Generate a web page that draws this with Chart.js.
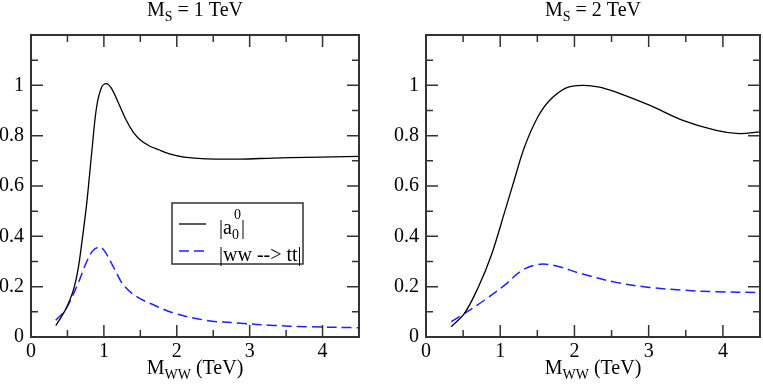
<!DOCTYPE html>
<html>
<head>
<meta charset="utf-8">
<script src="https://cdn.jsdelivr.net/npm/chart.js@4.4.0/dist/chart.umd.min.js"></script>
<style>
  body { margin: 0; background: #fff; }
  #wrap { position: relative; width: 763px; height: 385px; }
  canvas { position: absolute; top: 0; }
</style>
</head>
<body>
<div id="wrap">
  <canvas id="left" width="383" height="385" style="left:0"></canvas>
  <canvas id="right" width="380" height="385" style="left:383px"></canvas>
</div>
<script>
// --- DATA ---
const xMajor = [0, 1, 2, 3, 4];
const xMinor = [0.5, 1.5, 2.5, 3.5];
const yMajor = [0, 0.2, 0.4, 0.6, 0.8, 1, 1.2];
const yMinor = [0.1, 0.3, 0.5, 0.7, 0.9, 1.1];
const yLabels = [0, 0.2, 0.4, 0.6, 0.8, 1];

// M_S = 1 TeV
const leftA0X = [0.34, 0.47, 0.53, 0.59, 0.645, 0.695, 0.764, 0.832, 0.90, 0.97, 1.03, 1.1, 1.2, 1.3, 1.4, 1.5, 1.62, 1.75, 1.9, 2.1, 2.4, 2.87, 3.32, 3.78, 4.5];
const leftA0Y = [0.045, 0.107, 0.145, 0.195, 0.268, 0.37, 0.53, 0.73, 0.914, 0.993, 1.007, 0.99, 0.93, 0.865, 0.815, 0.783, 0.76, 0.744, 0.728, 0.715, 0.708, 0.707, 0.711, 0.714, 0.718];
const leftTtX = [0.34, 0.47, 0.627, 0.764, 0.855, 0.95, 1.015, 1.13, 1.27, 1.45, 1.632, 1.95, 2.41, 2.87, 3.32, 3.78, 4.5];
const leftTtY = [0.067, 0.107, 0.2, 0.299, 0.345, 0.357, 0.339, 0.279, 0.206, 0.16, 0.134, 0.096, 0.066, 0.055, 0.046, 0.041, 0.037];

// M_S = 2 TeV
const rightA0X = [0.34, 0.52, 0.70, 0.88, 1.058, 1.19, 1.327, 1.506, 1.664, 1.89, 2.11, 2.336, 2.56, 3.01, 3.46, 3.91, 4.22, 4.5];
const rightA0Y = [0.041, 0.095, 0.195, 0.325, 0.495, 0.625, 0.755, 0.874, 0.94, 0.99, 1.0, 0.993, 0.973, 0.921, 0.861, 0.821, 0.808, 0.815];
const rightTtX = [0.34, 0.52, 0.79, 1.06, 1.28, 1.506, 1.73, 2.11, 2.56, 3.01, 3.46, 3.91, 4.5];
const rightTtY = [0.061, 0.094, 0.147, 0.206, 0.262, 0.288, 0.284, 0.25, 0.217, 0.197, 0.186, 0.18, 0.177];

const FONT = '"Liberation Serif", "Times New Roman", serif';
const BIG = 20;
const SMALL = 14;

function pts(xs, ys) {
    return xs.map((x, i) => ({ x: x, y: ys[i] }));
}

// draws a run of text pieces (some sub/superscript) centred on cx
function drawRich(ctx, parts, cx, baseline) {
    let total = 0;
    parts.forEach(p => {
        ctx.font = p.size + 'px ' + FONT;
        p.w = ctx.measureText(p.t).width;
        total += p.w;
    });
    let x = cx - total / 2;
    parts.forEach(p => {
        ctx.font = p.size + 'px ' + FONT;
        ctx.fillText(p.t, x, baseline + (p.dy || 0));
        x += p.w;
    });
}

// frame, inward ticks on all four sides, titles
const framePlugin = {
    id: 'framePlugin',
    afterDatasetsDraw(chart, args, opts) {
        const { ctx, chartArea: a, scales: { x, y } } = chart;
        ctx.save();
        ctx.strokeStyle = '#333';
        ctx.lineWidth = 1.5;
        ctx.beginPath();
        const tx = (v, len) => {
            const p = x.getPixelForValue(v);
            ctx.moveTo(p, a.bottom); ctx.lineTo(p, a.bottom - len);
            ctx.moveTo(p, a.top); ctx.lineTo(p, a.top + len);
        };
        const ty = (v, len) => {
            const p = y.getPixelForValue(v);
            ctx.moveTo(a.left, p); ctx.lineTo(a.left + len, p);
            ctx.moveTo(a.right, p); ctx.lineTo(a.right - len, p);
        };
        xMajor.forEach(v => tx(v, 12));
        xMinor.forEach(v => tx(v, 7));
        yMajor.forEach(v => ty(v, 12));
        yMinor.forEach(v => ty(v, 7));
        ctx.stroke();
        ctx.lineWidth = 2;
        ctx.strokeRect(a.left, a.top, a.right - a.left, a.bottom - a.top);

        ctx.fillStyle = '#000';
        ctx.textBaseline = 'alphabetic';
        ctx.textAlign = 'left';
        const cx = (a.left + a.right) / 2;
        drawRich(ctx, [
            { t: 'M', size: BIG },
            { t: 'S', size: SMALL, dy: 5 },
            { t: ' = ' + opts.ms + ' TeV', size: BIG }
        ], cx, 16);
        drawRich(ctx, [
            { t: 'M', size: BIG },
            { t: 'WW', size: SMALL, dy: 5 },
            { t: ' (TeV)', size: BIG }
        ], cx, 374);

        if (opts.legend) {
            ctx.lineWidth = 1.5;
            ctx.strokeStyle = '#333';
            ctx.strokeRect(172, 203, 131, 61);
            ctx.lineWidth = 1.3;
            ctx.strokeStyle = '#000';
            ctx.beginPath();
            ctx.moveTo(179, 224); ctx.lineTo(206, 224);
            ctx.stroke();
            ctx.strokeStyle = '#2020ff';
            ctx.lineWidth = 1.5;
            ctx.setLineDash([10, 5]);
            ctx.beginPath();
            ctx.moveTo(179, 251); ctx.lineTo(206, 251);
            ctx.stroke();
            ctx.setLineDash([]);

            ctx.font = BIG + 'px ' + FONT;
            let px = 219;
            ctx.fillText('|a', px, 234);
            px += ctx.measureText('|a').width;
            ctx.font = SMALL + 'px ' + FONT;
            ctx.fillText('0', px, 239);
            ctx.fillText('0', px + 2, 219);
            px += ctx.measureText('0').width + 2;
            ctx.font = BIG + 'px ' + FONT;
            ctx.fillText('|', px, 234);
            ctx.fillText('|ww --> tt|', 219, 261);
        }
        ctx.restore();
    }
};

function makeChart(id, ms, a0, tt, axisW, padRight, legend) {
    return new Chart(document.getElementById(id), {
        type: 'line',
        data: {
            datasets: [{
                data: a0,
                borderColor: '#000',
                borderWidth: 1.3,
                pointRadius: 0,
                tension: 0.35,
                fill: false
            }, {
                data: tt,
                borderColor: '#2020ff',
                borderWidth: 1.5,
                borderDash: [10, 5],
                pointRadius: 0,
                tension: 0.35,
                fill: false
            }]
        },
        options: {
            responsive: false,
            animation: false,
            events: [],
            layout: { padding: { top: 35, right: padRight, left: 0, bottom: 0 } },
            plugins: {
                legend: { display: false },
                tooltip: { enabled: false },
                framePlugin: { ms: ms, legend: legend }
            },
            scales: {
                x: {
                    type: 'linear',
                    min: 0,
                    max: 4.5,
                    grid: { display: false, drawTicks: false },
                    border: { display: false },
                    afterBuildTicks: s => { s.ticks = xMajor.map(v => ({ value: v })); },
                    afterFit: s => { s.height = 48; },
                    ticks: {
                        padding: 3,
                        color: '#000',
                        font: { family: FONT, size: BIG },
                        maxRotation: 0,
                        callback: v => String(v)
                    }
                },
                y: {
                    type: 'linear',
                    min: 0,
                    max: 1.2,
                    grid: { display: false, drawTicks: false },
                    border: { display: false },
                    afterBuildTicks: s => { s.ticks = yLabels.map(v => ({ value: v })); },
                    afterFit: s => { s.width = axisW; },
                    ticks: {
                        padding: 7,
                        color: '#000',
                        font: { family: FONT, size: BIG },
                        callback: v => String(v)
                    }
                }
            }
        },
        plugins: [framePlugin]
    });
}

makeChart('left', 1, pts(leftA0X, leftA0Y), pts(leftTtX, leftTtY), 31, 24, true);
makeChart('right', 2, pts(rightA0X, rightA0Y), pts(rightTtX, rightTtY), 43, 3, false);
</script>
</body>
</html>
